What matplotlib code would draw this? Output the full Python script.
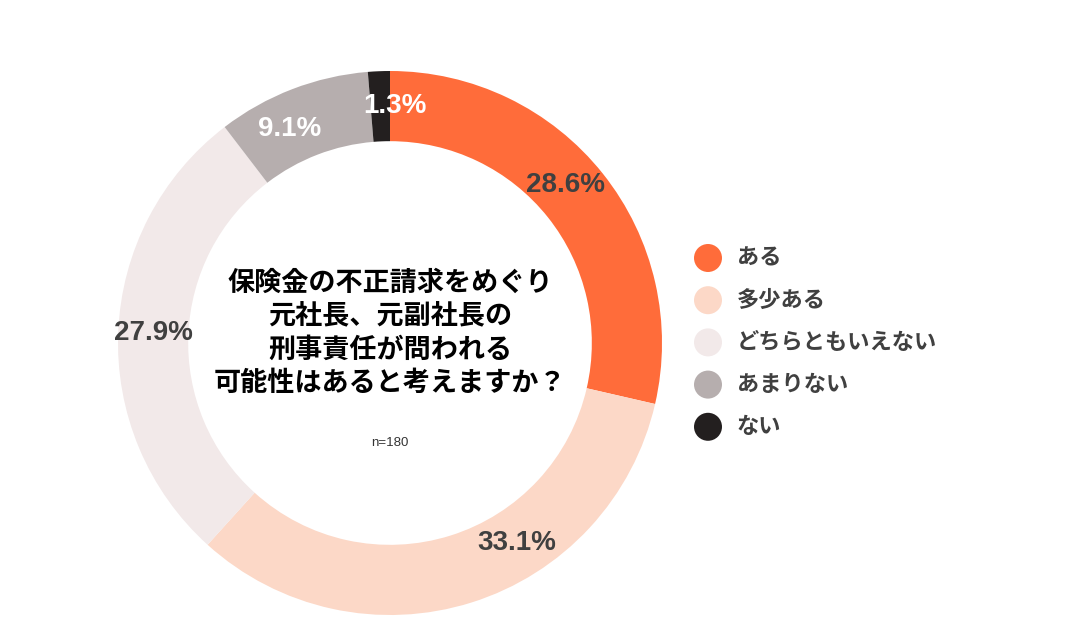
import numpy as np
import matplotlib.pyplot as plt

plt.rcParams['font.family'] = ['Noto Sans CJK JP', 'DejaVu Sans']

categories = ['ある', '多少ある', 'どちらともいえない', 'あまりない', 'ない']
values = [28.6, 33.1, 27.9, 9.1, 1.3]
colors = ['#FF6C3A', '#FCD8C7', '#F2E9E9', '#B6AEAE', '#231F1F']
label_colors = ['#404040', '#404040', '#404040', '#FFFFFF', '#FFFFFF']
# nudges of the label angle (deg) relative to the wedge middle
label_shift = [3.5, 15, 0, 4, -3.5]
title = '保険金の不正請求をめぐり\n元社長、元副社長の\n刑事責任が問われる\n可能性はあると考えますか？'
note = 'n=180'

W, H = 1087, 638
fig = plt.figure(figsize=(W / 100, H / 100), dpi=100)

cx, cy, R = 390, 343, 272
ax = fig.add_axes([(cx - R) / W, (H - cy - R) / H, 2 * R / W, 2 * R / H])
ax.pie(values, colors=colors, startangle=90, counterclock=False, radius=1,
       wedgeprops=dict(width=0.258, linewidth=0))
ax.set_xlim(-1, 1)
ax.set_ylim(-1, 1)
ax.set_aspect('equal')
ax.axis('off')

cum = np.cumsum([0] + values[:-1])
for v, c0, lc, sh in zip(values, cum, label_colors, label_shift):
    ang = np.deg2rad(90 - (c0 + v / 2) / 100 * 360 + sh)
    ax.text(0.87 * np.cos(ang), 0.87 * np.sin(ang), f'{v}%', ha='center', va='center',
            fontsize=20, fontweight='bold', color=lc, family=['Liberation Sans', 'DejaVu Sans'])

ax.text(0, 0.037, title, ha='center', va='center', fontsize=19.5, fontweight='bold',
        color='black', linespacing=1.25)
ax.text(0, -0.368, note, ha='center', va='center', fontsize=9.5, color='#333333',
        family=['Liberation Sans', 'DejaVu Sans'])

# legend drawn in pixel coordinates
lg = fig.add_axes([0, 0, 1, 1])
lg.set_xlim(0, W)
lg.set_ylim(H, 0)
lg.axis('off')
for i, (cat, col) in enumerate(zip(categories, colors)):
    y = 258 + i * 42.2
    lg.scatter([708], [y], s=(28 * 0.72) ** 2, color=col, edgecolors='none')
    lg.text(737, y, cat, ha='left', va='center', fontsize=16, fontweight='bold', color='#404040')

fig.savefig('out.png', dpi=100)
